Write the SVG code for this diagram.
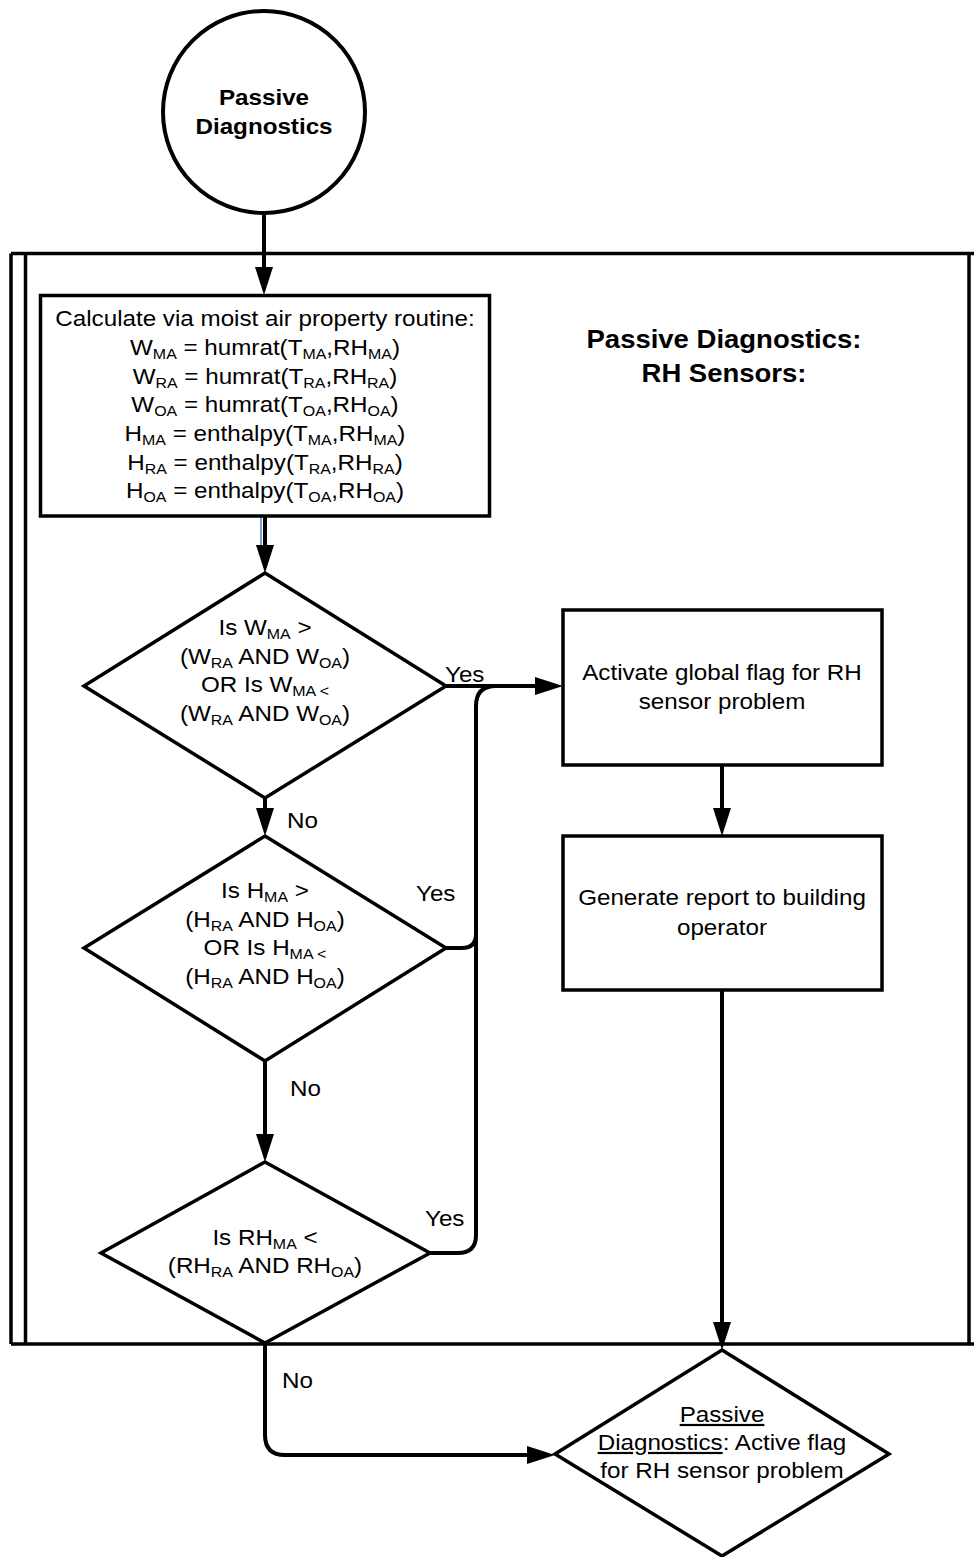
<svg xmlns="http://www.w3.org/2000/svg" width="974" height="1557" viewBox="0 0 974 1557">
<style>
.t{font-family:"Liberation Sans",Arial,sans-serif;font-size:22px;fill:#000}
.c{text-anchor:middle}
.b{font-weight:bold}
.s{font-size:14.5px}
.shape{fill:#fff;stroke:#000;stroke-width:3.5}
.fr{fill:none;stroke:#000;stroke-width:3.5}
.con{fill:none;stroke:#000;stroke-width:4}
</style>
<defs>
<marker id="ah" markerUnits="userSpaceOnUse" markerWidth="28" markerHeight="18" refX="14" refY="9" orient="auto">
<path d="M0,0 L28,9 L0,18 z" fill="#000"/>
</marker>
</defs>
<rect width="974" height="1557" fill="#fff"/>
<g id="frame">
<line class="fr" x1="11" y1="253.5" x2="974" y2="253.5"/>
<line class="fr" x1="11" y1="1344" x2="974" y2="1344"/>
<line class="fr" x1="11" y1="253.5" x2="11" y2="1344"/>
<line class="fr" x1="25.5" y1="253.5" x2="25.5" y2="1344"/>
<line class="fr" x1="969" y1="253.5" x2="969" y2="1344"/>
<g transform="translate(724,0) scale(1.1,1)">
<text class="t c b" x="0" y="348" style="font-size:25px">Passive Diagnostics:</text>
<text class="t c b" x="0" y="382" style="font-size:25px">RH Sensors:</text>
</g>
</g>
<g id="connectors">
<line class="con" x1="264" y1="214" x2="264" y2="281" marker-end="url(#ah)"/>
<line x1="261" y1="516" x2="261" y2="548" stroke="#4f81bd" stroke-width="1.5"/>
<line class="con" x1="265" y1="516" x2="265" y2="559" marker-end="url(#ah)"/>
<line class="con" x1="265" y1="797" x2="265" y2="822" marker-end="url(#ah)"/>
<line class="con" x1="265" y1="1062" x2="265" y2="1148" marker-end="url(#ah)"/>
<line class="con" x1="446" y1="686" x2="549" y2="686" marker-end="url(#ah)"/>
<path class="con" d="M430,1253 H458 Q476,1253 476,1235 V706 Q476,686 496,686"/>
<path class="con" d="M446,948 H462 Q476,948 476,934"/>
<line class="con" x1="722" y1="765" x2="722" y2="822" marker-end="url(#ah)"/>
<line class="con" x1="722" y1="990" x2="722" y2="1336" marker-end="url(#ah)"/>
<path class="con" d="M265,1343 V1435 Q265,1455 285,1455 H541" marker-end="url(#ah)"/>
<g transform="translate(445,682) scale(1.1,1)"><text class="t" x="0" y="0">Yes</text></g>
<g transform="translate(416,901) scale(1.1,1)"><text class="t" x="0" y="0">Yes</text></g>
<g transform="translate(425,1226) scale(1.1,1)"><text class="t" x="0" y="0">Yes</text></g>
<g transform="translate(287,828) scale(1.1,1)"><text class="t" x="0" y="0">No</text></g>
<g transform="translate(290,1096) scale(1.1,1)"><text class="t" x="0" y="0">No</text></g>
<g transform="translate(282,1388) scale(1.1,1)"><text class="t" x="0" y="0">No</text></g>
</g>
<g id="start">
<circle class="shape" cx="264" cy="112" r="101" style="stroke-width:4"/>
<g transform="translate(264,0) scale(1.1,1)">
<text class="t c b" x="0" y="105">Passive</text>
<text class="t c b" x="0" y="134">Diagnostics</text>
</g>
</g>
<g id="calc">
<rect class="shape" x="40.5" y="295.5" width="449" height="220.5"/>
<g transform="translate(265,0) scale(1.1,1)">
<text class="t c" x="0" y="326">Calculate via moist air property routine:</text>
<text class="t c" x="0" y="355">W<tspan class="s" dy="4">MA</tspan><tspan dy="-4"> = humrat(T</tspan><tspan class="s" dy="4">MA</tspan><tspan dy="-4">,RH</tspan><tspan class="s" dy="4">MA</tspan><tspan dy="-4">)</tspan></text>
<text class="t c" x="0" y="384">W<tspan class="s" dy="4">RA</tspan><tspan dy="-4"> = humrat(T</tspan><tspan class="s" dy="4">RA</tspan><tspan dy="-4">,RH</tspan><tspan class="s" dy="4">RA</tspan><tspan dy="-4">)</tspan></text>
<text class="t c" x="0" y="412">W<tspan class="s" dy="4">OA</tspan><tspan dy="-4"> = humrat(T</tspan><tspan class="s" dy="4">OA</tspan><tspan dy="-4">,RH</tspan><tspan class="s" dy="4">OA</tspan><tspan dy="-4">)</tspan></text>
<text class="t c" x="0" y="441">H<tspan class="s" dy="4">MA</tspan><tspan dy="-4"> = enthalpy(T</tspan><tspan class="s" dy="4">MA</tspan><tspan dy="-4">,RH</tspan><tspan class="s" dy="4">MA</tspan><tspan dy="-4">)</tspan></text>
<text class="t c" x="0" y="470">H<tspan class="s" dy="4">RA</tspan><tspan dy="-4"> = enthalpy(T</tspan><tspan class="s" dy="4">RA</tspan><tspan dy="-4">,RH</tspan><tspan class="s" dy="4">RA</tspan><tspan dy="-4">)</tspan></text>
<text class="t c" x="0" y="498">H<tspan class="s" dy="4">OA</tspan><tspan dy="-4"> = enthalpy(T</tspan><tspan class="s" dy="4">OA</tspan><tspan dy="-4">,RH</tspan><tspan class="s" dy="4">OA</tspan><tspan dy="-4">)</tspan></text>
</g>
</g>
<g id="d1">
<polygon class="shape" points="265,573 446,686 265,798 84,686"/>
<g transform="translate(265,0) scale(1.1,1)">
<text class="t c" x="0" y="635">Is W<tspan class="s" dy="4">MA</tspan><tspan dy="-4"> &gt;</tspan></text>
<text class="t c" x="0" y="664">(W<tspan class="s" dy="4">RA</tspan><tspan dy="-4"> AND W</tspan><tspan class="s" dy="4">OA</tspan><tspan dy="-4">)</tspan></text>
<text class="t c" x="0" y="692">OR Is W<tspan class="s" dy="4">MA &lt;</tspan></text>
<text class="t c" x="0" y="721">(W<tspan class="s" dy="4">RA</tspan><tspan dy="-4"> AND W</tspan><tspan class="s" dy="4">OA</tspan><tspan dy="-4">)</tspan></text>
</g>
</g>
<g id="d2">
<polygon class="shape" points="265,836 446,948 265,1061 84,948"/>
<g transform="translate(265,0) scale(1.1,1)">
<text class="t c" x="0" y="898">Is H<tspan class="s" dy="4">MA</tspan><tspan dy="-4"> &gt;</tspan></text>
<text class="t c" x="0" y="927">(H<tspan class="s" dy="4">RA</tspan><tspan dy="-4"> AND H</tspan><tspan class="s" dy="4">OA</tspan><tspan dy="-4">)</tspan></text>
<text class="t c" x="0" y="955">OR Is H<tspan class="s" dy="4">MA &lt;</tspan></text>
<text class="t c" x="0" y="984">(H<tspan class="s" dy="4">RA</tspan><tspan dy="-4"> AND H</tspan><tspan class="s" dy="4">OA</tspan><tspan dy="-4">)</tspan></text>
</g>
</g>
<g id="d3">
<polygon class="shape" points="265,1162 430,1253 265,1343 101,1253"/>
<g transform="translate(265,0) scale(1.1,1)">
<text class="t c" x="0" y="1245">Is RH<tspan class="s" dy="4">MA</tspan><tspan dy="-4"> &lt;</tspan></text>
<text class="t c" x="0" y="1273">(RH<tspan class="s" dy="4">RA</tspan><tspan dy="-4"> AND RH</tspan><tspan class="s" dy="4">OA</tspan><tspan dy="-4">)</tspan></text>
</g>
</g>
<g id="flag">
<rect class="shape" x="563" y="610" width="319" height="155"/>
<g transform="translate(722,0) scale(1.1,1)">
<text class="t c" x="0" y="680">Activate global flag for RH</text>
<text class="t c" x="0" y="709">sensor problem</text>
</g>
</g>
<g id="report">
<rect class="shape" x="563" y="836" width="319" height="154"/>
<g transform="translate(722,0) scale(1.1,1)">
<text class="t c" x="0" y="905">Generate report to building</text>
<text class="t c" x="0" y="935">operator</text>
</g>
</g>
<g id="end">
<polygon class="shape" points="722,1350 889,1454 722,1556 555,1454"/>
<g transform="translate(722,0) scale(1.1,1)">
<text class="t c" x="0" y="1422"><tspan text-decoration="underline">Passive</tspan></text>
<text class="t c" x="0" y="1450"><tspan text-decoration="underline">Diagnostics</tspan>: Active flag</text>
<text class="t c" x="0" y="1478">for RH sensor problem</text>
</g>
</g>
</svg>
